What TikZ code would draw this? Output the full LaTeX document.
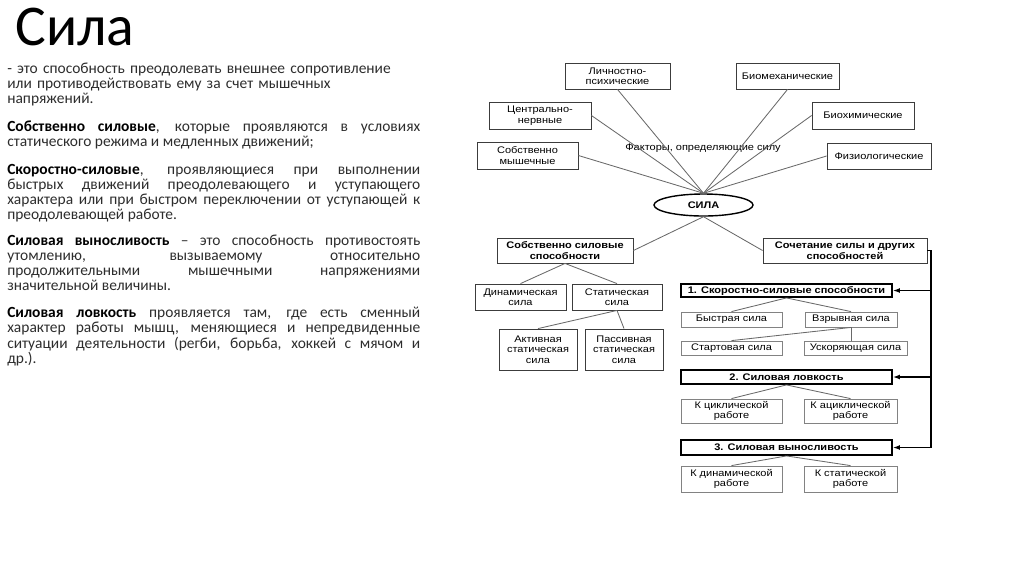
\documentclass[tikz,border=0pt]{standalone}
\usepackage{fontspec}
\setmainfont{Carlito}
\newfontfamily\diafont[FakeStretch=1.15]{Liberation Sans}
\usetikzlibrary{shapes.geometric, arrows.meta}
\definecolor{boxGray}{RGB}{60, 60, 60}
\definecolor{paleGray}{RGB}{130, 130, 130}
\definecolor{lineGray}{RGB}{105, 105, 105}
\definecolor{textGray}{RGB}{45, 45, 45}
\hyphenpenalty=10000
\exhyphenpenalty=10000

\begin{document}
\begin{tikzpicture}[x=0.025cm, y=-0.025cm,
    box/.style 2 args={draw=boxGray, line width=0.6pt, minimum width=#1*0.025cm,
      minimum height=#2*0.025cm, inner sep=1pt, align=center,
      font=\diafont\fontsize{6.8}{7.4}\selectfont},
    pale/.style={draw=paleGray},
    bold/.style={font=\diafont\bfseries\fontsize{6.8}{7.4}\selectfont},
    headbox/.style={draw=black, line width=1.3pt, bold},
    link/.style={draw=lineGray, line width=0.6pt},
    para/.style={anchor=base west, inner sep=0, text width=413*0.025cm,
      text=textGray, font=\fontsize{11}{10.8}\selectfont}]
  \useasboundingbox (0,0) rectangle (1024,574);

  % left column: title and text
  \node[anchor=base west, inner sep=0, font=\fontsize{41}{43}\selectfont] (title) at (15,45) {Сила};
  \node[para, align=left] (p1) at (7,73.6) {- это способность преодолевать внешнее сопротивление\\
    или противодействовать ему за счет мышечных\\ напряжений.};
  \node[para, align=justify] (p2) at (7,131.4) {\textbf{\color{black}Собственно силовые}, которые проявляются в условиях\linebreak
    статического режима и медленных движений;};
  \node[para, align=justify] (p3) at (7,174.4) {\textbf{\color{black}Скоростно-силовые}, проявляющиеся при выполнении\linebreak
    быстрых движений преодолевающего и уступающего\linebreak
    характера или при быстром переключении от уступающей к\linebreak
    преодолевающей работе.};
  \node[para, align=justify] (p4) at (7,245.4) {\textbf{\color{black}Силовая выносливость} – это способность противостоять\linebreak
    утомлению, вызываемому относительно\linebreak
    продолжительными мышечными напряжениями\linebreak
    значительной величины.};
  \node[para, align=justify] (p5) at (7,317.7) {\textbf{\color{black}Силовая ловкость} проявляется там, где есть сменный\linebreak
    характер работы мышц, меняющиеся и непредвиденные\linebreak
    ситуации деятельности (регби, борьба, хоккей с мячом и\linebreak
    др.).};

  % factors
  \node[box={105}{26}] (lich) at (617.5,76) {Личностно-\\психические};
  \node[box={103}{26}] (biomech) at (787.5,76) {Биомеханические};
  \node[box={102}{27}] (centr) at (540,115.5) {Центрально-\\нервные};
  \node[box={102}{27}] (biochem) at (863,115.5) {Биохимические};
  \node[box={101}{27}] (mysh) at (527.5,155.5) {Собственно\\мышечные};
  \node[box={104}{26}] (fiziol) at (879,156) {Физиологические};
  \node[font=\diafont\fontsize{6.8}{7.4}\selectfont] (factors) at (703,148) {Факторы, определяющие силу};
  \node[draw=black, ellipse, line width=1pt, inner sep=0, minimum width=99*0.025cm,
    minimum height=22*0.025cm, bold] (sila) at (703.5,205) {СИЛА};

  \foreach \f in {lich, biomech}
    \draw[link] (\f.south) -- (sila.north);
  \foreach \f in {centr, mysh}
    \draw[link] (\f.east) -- (sila.north);
  \foreach \f in {biochem, fiziol}
    \draw[link] (\f.west) -- (sila.north);

  % own strength
  \node[box={136}{25}, bold] (ownstr) at (565,250.5) {Собственно силовые\\способности};
  \node[box={164}{25}, bold] (combo) at (845,250.5) {Сочетание силы и других\\способностей};
  \draw[link] (sila.south) -- (ownstr.east);
  \draw[link] (sila.south) -- (combo.west);

  \node[box={91}{26}] (dyn) at (520.5,297) {Динамическая\\сила};
  \node[box={90}{26}] (stat) at (617,297) {Статическая\\сила};
  \node[box={78}{41}] (active) at (538,349.5) {Активная\\статическая\\сила};
  \node[box={78}{41}] (passive) at (624,349.5) {Пассивная\\статическая\\сила};
  \draw[link] (ownstr.south) -- (dyn.north);
  \draw[link] (ownstr.south) -- (stat.north);
  \draw[link] (stat.south) -- (active.north);
  \draw[link] (stat.south) -- (passive.north);

  % combined abilities
  \node[box={211}{13}, headbox] (speed) at (786.5,290.5) {1. Скоростно-силовые способности};
  \node[box={101}{15}, pale] (quick) at (731.5,319.5) {Быстрая сила};
  \node[box={92}{15}, pale] (blast) at (851,319.5) {Взрывная сила};
  \node[box={101}{14}, pale] (start) at (731.5,348) {Стартовая сила};
  \node[box={103}{14}, pale] (accel) at (855.5,348) {Ускоряющая сила};
  \draw[link] (speed.south) -- (quick.north);
  \draw[link] (speed.south) -- (blast.north);
  \draw[link] (blast.south) -- (start.north);
  \draw[link] (blast.south) -- (blast.south |- accel.north);

  \node[box={211}{14}, headbox] (agil) at (786.5,377) {2. Силовая ловкость};
  \node[box={101}{24}, pale] (cyc) at (731.5,411) {К циклической\\работе};
  \node[box={93}{24}, pale] (acyc) at (850.5,411) {К ациклической\\работе};
  \draw[link] (agil.south) -- (cyc.north);
  \draw[link] (agil.south) -- (acyc.north);

  \node[box={211}{15}, headbox] (endur) at (786.5,447.5) {3. Силовая выносливость};
  \node[box={101}{26}, pale] (kdyn) at (731.5,479) {К динамической\\работе};
  \node[box={93}{26}, pale] (kstat) at (850.5,479) {К статической\\работе};
  \draw[link] (endur.south) -- (kdyn.north);
  \draw[link] (endur.south) -- (kstat.north);

  \coordinate (bus) at (931,250.5);
  \draw[line width=0.9pt] (combo.east) -- (bus) -- (bus |- endur.east);
  \foreach \t in {speed, agil, endur}
    \draw[line width=0.9pt, -{Latex[length=5pt, width=3.5pt]}] (bus |- \t.east) -- (\t.east);
\end{tikzpicture}
\end{document}
